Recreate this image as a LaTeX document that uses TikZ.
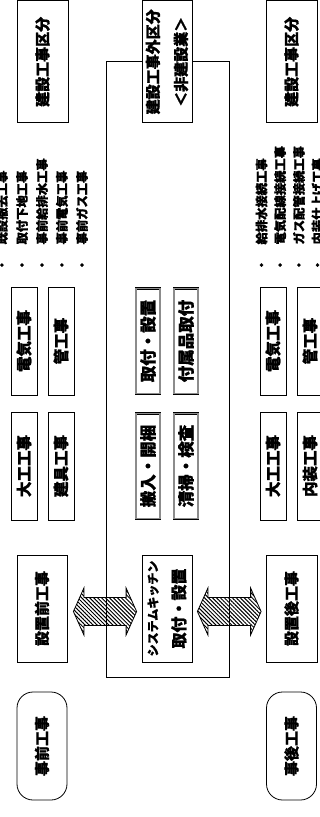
\documentclass[tikz,border=0pt]{standalone}
\usepackage{fontspec}
\newfontfamily\jp{Noto Sans CJK JP}[BoldFeatures={FakeBold=1.2}]
\usetikzlibrary{patterns.meta,backgrounds,calc}
% rotated nodes: screen right = .south, screen left = .north
\newcommand{\hatcharrow}[4]{%
  \draw[blockarrow] let \p1=(#1.south), \p2=(#2.north) in
    (\x1+#3,\y1-3pt) -- ++(10.5pt,23.5pt) -- ++(0,-9.5pt)
    -- (\x2-#4-10.5pt,\y1+11pt) -- ++(0,9.5pt) -- (\x2-#4,\y1-3pt)
    -- ++(-10.5pt,-23.5pt) -- ++(0,9.5pt)
    -- (\x1+#3+10.5pt,\y1-17pt) -- ++(0,-9.5pt) -- cycle;}
\begin{document}
\begin{tikzpicture}[x=1pt,y=1pt,
  lw/.style={line width=0.8pt},
  sz/.style 2 args={minimum width=#2, minimum height=#1},
  base/.style={inner sep=0pt, rotate=90, align=center, draw, lw, fill=white},
  title/.style={base, font=\jp\bfseries\fontsize{15}{28}\selectfont},
  sbox/.style={base, sz={26}{108}, font=\jp\bfseries\fontsize{15.5}{18}\selectfont},
  mbox/.style={base, sz={24}{105.5}, line width=0.6pt, double=black!45,
    double distance=1.3pt, font=\jp\bfseries\fontsize{16.5}{18}\selectfont},
  item/.style={inner sep=0pt, rotate=90, anchor=west,
    font=\jp\bfseries\fontsize{12.3}{14}\selectfont},
  rbox/.style={title, rounded corners=16pt, sz={50}{108}},
  blockarrow/.style={draw, lw, preaction={fill=white},
    pattern={Lines[angle=-45,distance=2.8pt,line width=1pt]}},
]
\useasboundingbox (0,0) rectangle (320,-817);

% top row
\node[title, sz={51}{122}] (tl) at (42.5,-61.8) {建設工事区分};
\node[title, sz={50}{122}] (tm) at (167,-61.8) {建設工事外区分\\＜非建設業＞};
\node[title, sz={51}{122}] (tr) at (291.5,-61.8) {建設工事区分};

% bullet lists
\node[item] (a1) at (2,-271.4)  {・\hspace{14.5pt}既設撤去工事};
\node[item] (a2) at (22,-271.4) {・\hspace{14.5pt}取付下地工事};
\node[item] (a3) at (42,-271.4) {・\hspace{14.5pt}事前給排水工事};
\node[item] (a4) at (62,-271.4) {・\hspace{14.5pt}事前電気工事};
\node[item] (a5) at (82,-271.4) {・\hspace{14.5pt}事前ガス工事};
\node[item] (b1) at (261.5,-271.4) {・\hspace{14.5pt}給排水接続工事};
\node[item] (b2) at (280.2,-271.4) {・\hspace{14.5pt}電気配線接続工事};
\node[item] (b3) at (298.9,-271.4) {・\hspace{14.5pt}ガス配管接続工事};
\node[item] (b4) at (317.6,-271.4) {・\hspace{14.5pt}内装仕上げ工事};

% small boxes
\node[sbox] (e1) at (24,-341) {電気工事};
\node[sbox] (k1) at (61,-341) {管工事};
\node[sbox] (d1) at (24,-466) {大工工事};
\node[sbox] (t1) at (61,-466) {建具工事};
\node[mbox] (m1) at (148,-341) {取付・設置};
\node[mbox] (m2) at (186,-341) {付属品取付};
\node[mbox] (m3) at (148,-466) {搬入・開梱};
\node[mbox] (m4) at (186,-466) {清掃・検査};
\node[sbox] (e2) at (273,-341) {電気工事};
\node[sbox] (k2) at (310,-341) {管工事};
\node[sbox] (d2) at (273,-466) {大工工事};
\node[sbox] (n2) at (310,-466) {内装工事};

% bottom row
\node[title, sz={50}{107}] (pre) at (42,-608.5) {設置前工事};
\node[title, sz={50}{107}, font=\jp\bfseries\fontsize{16}{27.5}\selectfont] (sys) at (167,-608.5)
  {{\fontsize{12}{27.5}\selectfont システムキッチン}\\取付・設置};
\node[title, sz={51}{107}] (post) at (291.5,-608.5) {設置後工事};

\node[rbox] (jz) at (42,-746) {事前工事};
\node[rbox] (jg) at (291.5,-746) {事後工事};

\begin{scope}[on background layer]
  \hatcharrow{pre}{sys}{6pt}{5pt}
  \hatcharrow{sys}{post}{5pt}{4.5pt}
  \draw[lw] (106,-61) rectangle (229,-677);
\end{scope}
\end{tikzpicture}
\end{document}
